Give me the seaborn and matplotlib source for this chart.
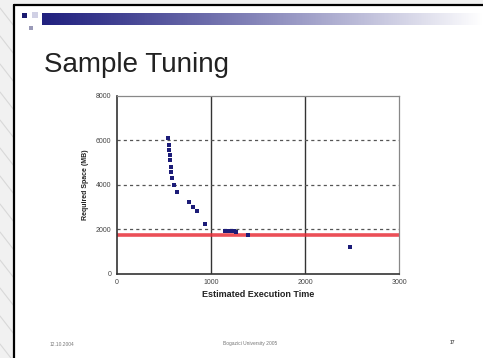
import numpy as np
import pandas as pd
import matplotlib
matplotlib.use("Agg")
import matplotlib.pyplot as plt
import seaborn as sns
from matplotlib.patches import Rectangle

# ---- data ----
exec_time = [545, 549, 555, 559, 563, 570, 576, 587, 605, 634, 764, 810, 846, 934,
             1150, 1180, 1210, 1240, 1270, 1394, 2475]
req_space = [6100, 5790, 5570, 5340, 5115, 4810, 4590, 4290, 3990, 3680, 3230, 2980, 2830, 2225,
             1930, 1920, 1910, 1900, 1890, 1730, 1200]
limit_value = 1730
x_ticks = [0, 1000, 2000, 3000]
y_ticks = [0, 2000, 4000, 6000, 8000]
title = "Sample Tuning"
x_label = "Estimated Execution Time"
y_label = "Required Space (MB)"
footer_left = "12.10.2004"
footer_mid = "Bogazici University 2005"
footer_right = "17"

df = pd.DataFrame({"time": exec_time, "space": req_space})

sns.set_theme(style="white")
plt.rcParams['font.family'] = ['Liberation Sans', 'DejaVu Sans']

W, H = 483, 358
fig = plt.figure(figsize=(W / 100, H / 100), dpi=100)
fig.patch.set_facecolor("white")

def fx(px):
    return px / W
def fy(py):
    return 1 - py / H

# background outside slide (left strip, top strip)
bg = fig.add_axes([0, 0, 1, 1], zorder=-10)
bg.set_xlim(0, W); bg.set_ylim(H, 0); bg.axis("off")
bg.add_patch(Rectangle((0, 0), 14, H, facecolor="#f1f1f1", edgecolor="none"))
bg.add_patch(Rectangle((0, 0), W, 5, facecolor="#f1f1f1", edgecolor="none"))
for yy in range(-20, H, 28):
    bg.plot([0, 14], [yy, yy + 18], color="#d8d8d8", lw=0.8)
bg.plot([14, 14], [5, H], color="black", lw=1.6)
bg.plot([14, W], [5, 5], color="black", lw=1.6)
# header squares
bg.add_patch(Rectangle((22, 13), 5, 5, facecolor="#1a1a70", edgecolor="none"))
bg.add_patch(Rectangle((29, 26), 4, 4, facecolor="#9a9ab8", edgecolor="none"))
bg.add_patch(Rectangle((32, 12), 6, 6, facecolor="#d0d0e4", edgecolor="none"))

# gradient bar
gax = fig.add_axes([fx(42), fy(25), fx(483 - 42), 12 / H], zorder=-5)
grad = np.linspace(0, 1, 256)
c0 = np.array([0.13, 0.13, 0.50]); c1 = np.array([1, 1, 1])
t = np.clip(grad ** 1.1, 0, 1)
img = (c0[None, :] * (1 - t[:, None]) + c1[None, :] * t[:, None])[None, :, :]
gax.imshow(img, aspect="auto", extent=[0, 1, 0, 1])
gax.axis("off")

# title + footer
fig.text(fx(44), fy(72), title, fontsize=20, color="#222222", va="baseline", ha="left")
fig.text(fx(62), fy(345), footer_left, fontsize=3.5, color="#777777", ha="center", va="center")
fig.text(fx(250), fy(344), footer_mid, fontsize=3.5, color="#777777", ha="center", va="center")
fig.text(fx(452), fy(343), footer_right, fontsize=3.5, color="#555555", ha="center", va="center",
         fontweight="bold")

# main chart
ax = fig.add_axes([fx(117), fy(273.5), fx(399 - 117), (273.5 - 96) / H])
ax.set_facecolor("white")
ax.axhline(limit_value, color="#e8303a", lw=2.6, alpha=0.85, zorder=2)
sns.scatterplot(data=df, x="time", y="space", ax=ax, marker="s", s=5, color="#1c1c78",
                linewidth=0, zorder=3)
ax.scatter([exec_time[0]], [req_space[0]], marker="s", s=10, color="#1c1c78", linewidth=0, zorder=4)
ax.scatter([exec_time[-1]], [req_space[-1]], marker="s", s=10, color="#1c1c78", linewidth=0, zorder=4)

ax.set_xlim(0, 3000)
ax.set_ylim(0, 8000)
ax.set_xticks(x_ticks)
ax.set_yticks(y_ticks)
ax.tick_params(axis="both", labelsize=5, colors="#555555", length=2, pad=2)
for lab in ax.get_xticklabels() + ax.get_yticklabels():
    lab.set_color("#444444")
for v in x_ticks[1:3]:
    ax.axvline(v, color="#333333", lw=1.0, zorder=1)
for v in y_ticks[1:4]:
    ax.axhline(v, color="#555555", lw=0.9, ls=(0, (2.5, 2.5)), zorder=1)
for s in ax.spines.values():
    s.set_color("#888888"); s.set_linewidth(0.9)
ax.spines["left"].set_color("#333333"); ax.spines["left"].set_linewidth(1.2)
ax.spines["bottom"].set_color("#333333"); ax.spines["bottom"].set_linewidth(1.2)
ax.set_xlabel(x_label, fontsize=6.5, fontweight="bold", color="#222222", labelpad=3)
ax.set_ylabel(y_label, fontsize=5, fontweight="bold", color="#222222", labelpad=5)

fig.savefig("out.png", dpi=100)
